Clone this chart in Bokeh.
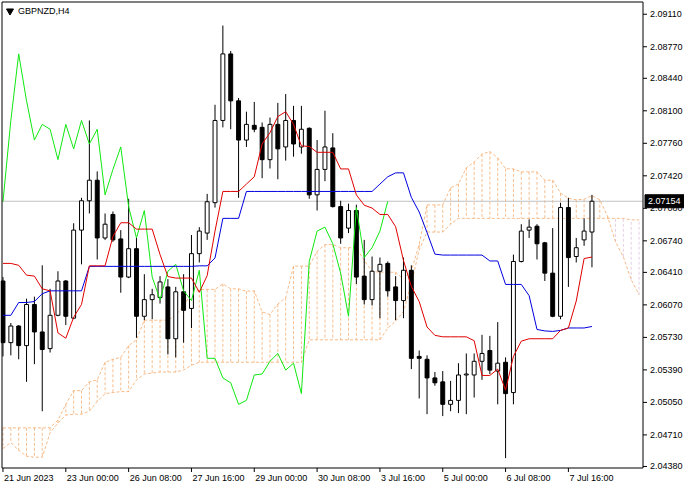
from bokeh.plotting import figure
from bokeh.models import Range1d, ColumnDataSource
from bokeh.core.properties import value
from bokeh.embed import file_html
from bokeh.resources import INLINE

symbol = "GBPNZD,H4"
last_price = 2.07154

x_labels = ["21 Jun 2023", "23 Jun 00:00", "26 Jun 08:00", "27 Jun 16:00", "29 Jun 00:00",
            "30 Jun 08:00", "3 Jul 16:00", "5 Jul 00:00", "6 Jul 08:00", "7 Jul 16:00"]
x_label_bars = [0, 8, 16, 24, 32, 40, 48, 56, 64, 72]

price_ticks = [2.09110, 2.08770, 2.08440, 2.08100, 2.07760, 2.07420, 2.07080, 2.06740,
               2.06410, 2.06070, 2.05730, 2.05390, 2.05050, 2.04710, 2.04380]

opens = [2.06320, 2.05675, 2.05849, 2.05644, 2.06074, 2.05787, 2.05613, 2.05961, 2.06320, 2.05931,
         2.06852, 2.07159, 2.07374, 2.06770, 2.07016, 2.06760, 2.06361, 2.06658, 2.05951, 2.06125,
         2.06146, 2.06258, 2.05716, 2.06207, 2.06033, 2.06606, 2.06821, 2.07139, 2.07999, 2.08695,
         2.08204, 2.07794, 2.07948, 2.07927, 2.07589, 2.07958, 2.07722, 2.07999, 2.07722, 2.07917,
         2.07221, 2.07487, 2.07712, 2.07098, 2.06873, 2.07057, 2.06371, 2.06125, 2.06422, 2.06504,
         2.06258, 2.06115, 2.06432, 2.05531, 2.05501, 2.05306, 2.05265, 2.05030, 2.05071, 2.05337,
         2.05337, 2.05480, 2.05593, 2.05378, 2.05470, 2.05153, 2.06524, 2.06852, 2.06893, 2.06719,
         2.06402, 2.05951, 2.07088, 2.06576, 2.06750, 2.06832]

highs = [2.06361, 2.05880, 2.05859, 2.06135, 2.06156, 2.06484, 2.06238, 2.06422, 2.06330, 2.06924,
         2.07190, 2.07999, 2.07466, 2.07026, 2.07047, 2.06852, 2.07180, 2.06770, 2.06391, 2.06238,
         2.06371, 2.06340, 2.06258, 2.06391, 2.06801, 2.06883, 2.07231, 2.08163, 2.08992, 2.08726,
         2.08234, 2.08091, 2.08193, 2.07978, 2.08029, 2.08183, 2.08275, 2.08152, 2.08152, 2.07927,
         2.07794, 2.08101, 2.07866, 2.07159, 2.07129, 2.07118, 2.06750, 2.06576, 2.06565, 2.06524,
         2.06371, 2.06565, 2.06484, 2.05593, 2.05542, 2.05368, 2.05378, 2.05275, 2.05460, 2.05562,
         2.05562, 2.05757, 2.05746, 2.05890, 2.05521, 2.06596, 2.06914, 2.06965, 2.06914, 2.06729,
         2.06873, 2.07139, 2.07190, 2.06770, 2.06975, 2.07221]

lows = [2.05531, 2.05542, 2.05501, 2.05265, 2.05450, 2.04958, 2.05572, 2.05951, 2.05859, 2.05920,
        2.06494, 2.07026, 2.06545, 2.06750, 2.06729, 2.06197, 2.06350, 2.05726, 2.05910, 2.05920,
        2.06084, 2.05552, 2.05521, 2.05675, 2.05828, 2.06514, 2.06750, 2.07088, 2.07927, 2.07907,
        2.07190, 2.07722, 2.07876, 2.07395, 2.07497, 2.07384, 2.07579, 2.07620, 2.07651, 2.07180,
        2.07057, 2.07364, 2.07088, 2.06709, 2.06821, 2.06289, 2.06074, 2.06064, 2.05931, 2.06156,
        2.05910, 2.05931, 2.05398, 2.05091, 2.04927, 2.05224, 2.04907, 2.04958, 2.04938, 2.04927,
        2.05101, 2.05286, 2.05347, 2.05030, 2.04467, 2.05030, 2.06514, 2.06770, 2.06545, 2.06320,
        2.05941, 2.05920, 2.06258, 2.06514, 2.06688, 2.06463]

closes = [2.05675, 2.05849, 2.05644, 2.06074, 2.05787, 2.05603, 2.05961, 2.06320, 2.05951, 2.06852,
          2.07159, 2.07374, 2.06770, 2.06914, 2.06750, 2.06361, 2.06658, 2.05951, 2.06125, 2.06176,
          2.06310, 2.05716, 2.06207, 2.06013, 2.06606, 2.06842, 2.07149, 2.07999, 2.08695, 2.08204,
          2.07794, 2.07958, 2.07907, 2.07589, 2.07958, 2.07702, 2.07999, 2.07753, 2.07907, 2.07221,
          2.07487, 2.07722, 2.07098, 2.06770, 2.07057, 2.06361, 2.06125, 2.06422, 2.06494, 2.06217,
          2.06115, 2.06432, 2.05511, 2.05511, 2.05306, 2.05255, 2.05030, 2.05071, 2.05337, 2.05347,
          2.05480, 2.05562, 2.05388, 2.05460, 2.05142, 2.06524, 2.06842, 2.06883, 2.06709, 2.06402,
          2.05951, 2.07088, 2.06565, 2.06668, 2.06842, 2.07154]

tenkan_early = [2.06504, 2.06504, 2.06484, 2.06381, 2.06371, 2.06238, 2.06217, 2.05777]
kijun_early = ([2.05961, 2.05961, 2.06095, 2.06095, 2.06105, 2.06187, 2.06217, 2.06217,
                2.06217, 2.06217, 2.06217] + [2.06473] * 14)
span_a_early = ([2.04784] * 7 + [2.04866, 2.05030, 2.05173, 2.05173, 2.05265, 2.05286, 2.05470,
                                 2.05501, 2.05521, 2.05644, 2.05705, 2.05910, 2.05910, 2.05910,
                                 2.05910, 2.05961, 2.06064, 2.06187, 2.06228])
span_b_early = ([2.04569, 2.04630, 2.04549, 2.04487, 2.04477, 2.04477, 2.04733, 2.04835, 2.04917,
                 2.04927, 2.04927, 2.04958, 2.05060, 2.05142, 2.05153, 2.05163, 2.05163, 2.05286,
                 2.05347, 2.05357, 2.05368, 2.05368, 2.05368, 2.05388, 2.05439]
                + [2.05470] * 14 + [2.05705] * 10
                + [2.05828, 2.05900, 2.06002, 2.06289, 2.06647, 2.06832, 2.06832, 2.06832, 2.06914]
                + [2.06975] * 19)

n = len(closes)
bars = list(range(n))

tenkan = tenkan_early + [(max(highs[i - 8:i + 1]) + min(lows[i - 8:i + 1])) / 2
                         for i in range(len(tenkan_early), n)]
kijun = kijun_early + [(max(highs[i - 25:i + 1]) + min(lows[i - 25:i + 1])) / 2
                       for i in range(len(kijun_early), n)]
last_j = 81
span_a = span_a_early + [(tenkan[j - 26] + kijun[j - 26]) / 2
                         for j in range(len(span_a_early), last_j + 1)]
span_b = span_b_early + [(max(highs[j - 77:j - 25]) + min(lows[j - 77:j - 25])) / 2
                         for j in range(len(span_b_early), last_j + 1)]
cloud_x = list(range(last_j + 1))
chikou_x = bars[:n - 26]
chikou_y = closes[26:]

# ---- layout (screen pixels) ----
W, H = 684, 484
FRAME_W, FRAME_H = 641, 466
x_lo, x_r = -0.125, 81.5
y_lo, y_hi = 2.04364, 2.09238
sx = FRAME_W / (x_r - x_lo)          # px per bar
sy = FRAME_H / (y_hi - y_lo)         # px per price unit
x0 = x_lo - 1.5 / sx
y1 = y_hi + 1.5 / sy

FONT = value("Liberation Sans")
FS = value("9px")

p = figure(width=W, height=H, x_range=Range1d(x0, x0 + W / sx), y_range=Range1d(y1 - H / sy, y1),
           output_backend="svg", toolbar_location=None, x_axis_location=None,
           y_axis_location=None, min_border=0)
p.background_fill_color = "white"
p.border_fill_color = "white"
p.outline_line_color = None
p.xgrid.visible = False
p.ygrid.visible = False

# cloud hatching
SANDY = "#F4A460"
THISTLE = "#D8BFD8"
cloud_src = ColumnDataSource(dict(
    x=cloud_x, a=span_a, b=span_b,
    c=[SANDY if a >= b else THISTLE for a, b in zip(span_a, span_b)]))
p.segment(x0="x", y0="a", x1="x", y1="b", source=cloud_src, line_color="c",
          line_dash="3 2", line_width=1, line_alpha=0.7)
p.line(cloud_x, span_a, line_color=SANDY, line_dash="3 2", line_width=1, line_alpha=0.75)
p.line(cloud_x, span_b, line_color=SANDY, line_dash="3 2", line_width=1, line_alpha=0.75)

# current price line
p.segment(x0=[x_lo], y0=[last_price], x1=[x_r], y1=[last_price], line_color="#C0C0C0",
          line_width=1)

# candles
inc = [c >= o for o, c in zip(opens, closes)]
p.segment(x0=bars, y0=lows, x1=bars, y1=highs, line_color="black", line_width=1)
up_src = ColumnDataSource(dict(
    x=[b for b, k in zip(bars, inc) if k],
    top=[c for c, k in zip(closes, inc) if k],
    bottom=[o for o, k in zip(opens, inc) if k]))
dn_src = ColumnDataSource(dict(
    x=[b for b, k in zip(bars, inc) if not k],
    top=[o for o, k in zip(opens, inc) if not k],
    bottom=[c for c, k in zip(closes, inc) if not k]))
p.vbar(x="x", top="top", bottom="bottom", width=0.5, source=up_src,
       fill_color="white", line_color="black", line_width=1)
p.vbar(x="x", top="top", bottom="bottom", width=0.5, source=dn_src,
       fill_color="black", line_color="black", line_width=1)

# ichimoku lines
p.line(chikou_x, chikou_y, line_color="#10E810", line_width=1)
p.line(bars, kijun, line_color="#0000E0", line_width=1)
p.line(bars, tenkan, line_color="#E00000", line_width=1)

# frame border
p.line([x_lo, x_r, x_r, x_lo, x_lo], [y_lo, y_lo, y_hi, y_hi, y_lo],
       line_color="black", line_width=1)

# right price scale
p.segment(x0=[x_r] * len(price_ticks), y0=price_ticks,
          x1=[x_r + 4 / sx] * len(price_ticks), y1=price_ticks, line_color="black")
p.text(x=[x_r + 7 / sx] * len(price_ticks), y=price_ticks,
       text=[f"{t:.5f}" for t in price_ticks], text_font=FONT, text_font_size=FS,
       text_align="left", text_baseline="middle", text_color="black")

# last price marker
p.quad(left=[x_r + 2 / sx], right=[x_r + 43 / sx], top=[last_price + 6.5 / sy],
       bottom=[last_price - 6.5 / sy], fill_color="black", line_color="black")
p.text(x=[x_r + 5 / sx], y=[last_price], text=[f"{last_price:.5f}"], text_font=FONT,
       text_font_size=FS, text_align="left", text_baseline="middle", text_color="white")

# time scale
p.segment(x0=x_label_bars, y0=[y_lo] * len(x_label_bars), x1=x_label_bars,
          y1=[y_lo - 4 / sy] * len(x_label_bars), line_color="black")
p.text(x=[b + 1 / sx for b in x_label_bars], y=[y_lo - 5 / sy] * len(x_label_bars),
       text=x_labels, text_font=FONT, text_font_size=FS, text_align="left",
       text_baseline="top", text_color="black")

# symbol caption
p.scatter(x=[x_lo + 8 / sx], y=[y_hi - 9 / sy], marker="inverted_triangle", size=7,
          fill_color="black", line_color="black")
p.text(x=[x_lo + 16 / sx], y=[y_hi - 4 / sy], text=[symbol], text_font=FONT,
       text_font_size=FS, text_align="left", text_baseline="top", text_color="black")

open("out.html", "w").write(file_html(p, INLINE))
